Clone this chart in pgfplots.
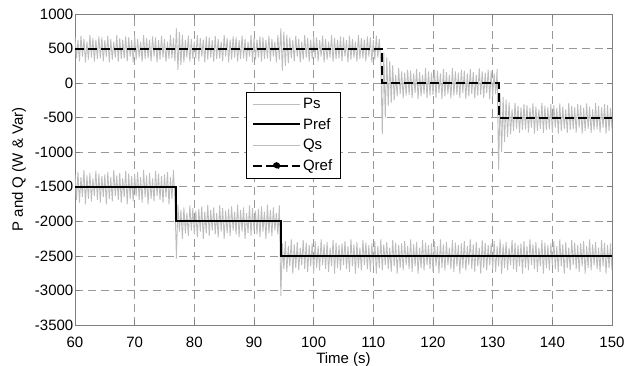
\documentclass[border=0pt]{standalone}
\usepackage{fontspec}
\setmainfont{Liberation Sans}
\usepackage{pgfplots}
\pgfplotsset{compat=1.18}
\definecolor{gridgray}{gray}{0.6}
\definecolor{axgray}{gray}{0.5}
\definecolor{noisegray}{gray}{0.74}
\begin{document}
\begin{tikzpicture}
\begin{axis}[
  name=ax,
  scale only axis,
  width=537pt, height=311pt,
  xmin=60, xmax=150, ymin=-3500, ymax=1000,
  xtick={60,70,...,150},
  ytick={-3500,-3000,...,1000},
  enlargelimits=false,
  axis line style={axgray, line width=0.6pt},
  tick style={axgray, line width=0.6pt},
  tick align=inside,
  major tick length=5pt,
  grid=major,
  major grid style={gridgray, line width=0.7pt, dash pattern=on 8pt off 5pt},
  /pgf/number format/assume math mode=true,
  /pgf/number format/1000 sep={},
  ticklabel style={font=\fontsize{15}{17}\selectfont},
  yticklabel style={inner xsep=1.5pt},
  xticklabel style={yshift=-8pt},
  label style={font=\fontsize{15}{17}\selectfont},
  xlabel={Time (s)},
  ylabel={P and Q (W \& Var)},
  xlabel style={yshift=1pt},
  ylabel style={yshift=4pt},
  legend style={at={(rel axis cs:0.318,0.750)}, anchor=north west,
    draw=black, line width=0.5pt, fill=white,
    font=\fontsize{15}{17}\selectfont,
    row sep=4.5pt, inner xsep=6pt, inner ysep=4pt},
  legend cell align=left,
  legend image code/.code={\draw[#1] (0pt,0pt) -- (47pt,0pt);},
]
% Ps
\addplot[noisegray, line width=0.9pt, legend image post style={line width=0.5pt}] coordinates {
(60,-1320)(60.25,-1690)(60.5,-1285)(60.75,-1730)(61,-1360)(61.25,-1650)(61.5,-1260)(61.75,-1755)
(62,-1335)(62.25,-1675)(62.5,-1300)(62.75,-1710)(63,-1380)(63.25,-1635)(63.5,-1270)(63.75,-1690)
(64,-1310)(64.25,-1730)(64.5,-1345)(64.75,-1650)(65,-1320)(65.25,-1755)(65.5,-1285)(65.75,-1675)
(66,-1360)(66.25,-1710)(66.5,-1260)(66.75,-1635)(67,-1335)(67.25,-1690)(67.5,-1300)(67.75,-1730)
(68,-1380)(68.25,-1650)(68.5,-1270)(68.75,-1755)(69,-1310)(69.25,-1675)(69.5,-1345)(69.75,-1710)
(70,-1320)(70.25,-1635)(70.5,-1285)(70.75,-1690)(71,-1360)(71.25,-1730)(71.5,-1260)(71.75,-1650)
(72,-1335)(72.25,-1755)(72.5,-1300)(72.75,-1675)(73,-1380)(73.25,-1710)(73.5,-1270)(73.75,-1635)
(74,-1310)(74.25,-1690)(74.5,-1345)(74.75,-1730)(75,-1320)(75.25,-1650)(75.5,-1285)(75.75,-1755)
(76,-1360)(76.25,-1675)(76.5,-1260)(76.75,-1710)
(77,-2540)
(77.25,-1760)(77.5,-2150)(77.75,-1835)(78,-2255)(78.25,-1800)(78.5,-2175)(78.75,-1880)(79,-2210)
(79.25,-1770)(79.5,-2135)(79.75,-1810)(80,-2190)(80.25,-1845)(80.5,-2230)(80.75,-1820)(81,-2150)
(81.25,-1785)(81.5,-2255)(81.75,-1860)(82,-2175)(82.25,-1760)(82.5,-2210)(82.75,-1835)(83,-2135)
(83.25,-1800)(83.5,-2190)(83.75,-1880)(84,-2230)(84.25,-1770)(84.5,-2150)(84.75,-1810)(85,-2255)
(85.25,-1845)(85.5,-2175)(85.75,-1820)(86,-2210)(86.25,-1785)(86.5,-2135)(86.75,-1860)(87,-2190)
(87.25,-1760)(87.5,-2230)(87.75,-1835)(88,-2150)(88.25,-1800)(88.5,-2255)(88.75,-1880)(89,-2175)
(89.25,-1770)(89.5,-2210)(89.75,-1810)(90,-2135)(90.25,-1845)(90.5,-2190)(90.75,-1820)(91,-2230)
(91.25,-1785)(91.5,-2150)(91.75,-1860)(92,-2255)(92.25,-1760)(92.5,-2175)(92.75,-1835)(93,-2210)
(93.25,-1800)(93.5,-2135)(93.75,-1880)(94,-2190)(94.25,-1770)
(94.5,-3080)
(94.75,-2320)(95,-2690)(95.25,-2285)(95.5,-2730)(95.75,-2360)(96,-2650)(96.25,-2260)(96.5,-2755)
(96.75,-2335)(97,-2675)(97.25,-2300)(97.5,-2710)(97.75,-2380)(98,-2635)(98.25,-2270)(98.5,-2690)
(98.75,-2310)(99,-2730)(99.25,-2345)(99.5,-2650)(99.75,-2320)(100,-2755)(100.25,-2285)(100.5,-2675)
(100.75,-2360)(101,-2710)(101.25,-2260)(101.5,-2635)(101.75,-2335)(102,-2690)(102.25,-2300)(102.5,-2730)
(102.75,-2380)(103,-2650)(103.25,-2270)(103.5,-2755)(103.75,-2310)(104,-2675)(104.25,-2345)(104.5,-2710)
(104.75,-2320)(105,-2635)(105.25,-2285)(105.5,-2690)(105.75,-2360)(106,-2730)(106.25,-2260)(106.5,-2650)
(106.75,-2335)(107,-2755)(107.25,-2300)(107.5,-2675)(107.75,-2380)(108,-2710)(108.25,-2270)(108.5,-2635)
(108.75,-2310)(109,-2690)(109.25,-2345)(109.5,-2730)(109.75,-2320)(110,-2650)(110.25,-2285)(110.5,-2755)
(110.75,-2360)(111,-2675)(111.25,-2260)(111.5,-2710)(111.75,-2335)(112,-2635)(112.25,-2300)(112.5,-2690)
(112.75,-2380)(113,-2730)(113.25,-2270)(113.5,-2650)(113.75,-2310)(114,-2755)(114.25,-2345)(114.5,-2675)
(114.75,-2320)(115,-2710)(115.25,-2285)(115.5,-2635)(115.75,-2360)(116,-2690)(116.25,-2260)(116.5,-2730)
(116.75,-2335)(117,-2650)(117.25,-2300)(117.5,-2755)(117.75,-2380)(118,-2675)(118.25,-2270)(118.5,-2710)
(118.75,-2310)(119,-2635)(119.25,-2345)(119.5,-2690)(119.75,-2320)(120,-2730)(120.25,-2285)(120.5,-2650)
(120.75,-2360)(121,-2755)(121.25,-2260)(121.5,-2675)(121.75,-2335)(122,-2710)(122.25,-2300)(122.5,-2635)
(122.75,-2380)(123,-2690)(123.25,-2270)(123.5,-2730)(123.75,-2310)(124,-2650)(124.25,-2345)(124.5,-2755)
(124.75,-2320)(125,-2675)(125.25,-2285)(125.5,-2710)(125.75,-2360)(126,-2635)(126.25,-2260)(126.5,-2690)
(126.75,-2335)(127,-2730)(127.25,-2300)(127.5,-2650)(127.75,-2380)(128,-2755)(128.25,-2270)(128.5,-2675)
(128.75,-2310)(129,-2710)(129.25,-2345)(129.5,-2635)(129.75,-2320)(130,-2690)(130.25,-2285)(130.5,-2730)
(130.75,-2360)(131,-2650)(131.25,-2260)(131.5,-2755)(131.75,-2335)(132,-2675)(132.25,-2300)(132.5,-2710)
(132.75,-2380)(133,-2635)(133.25,-2270)(133.5,-2690)(133.75,-2310)(134,-2730)(134.25,-2345)(134.5,-2650)
(134.75,-2320)(135,-2755)(135.25,-2285)(135.5,-2675)(135.75,-2360)(136,-2710)(136.25,-2260)(136.5,-2635)
(136.75,-2335)(137,-2690)(137.25,-2300)(137.5,-2730)(137.75,-2380)(138,-2650)(138.25,-2270)(138.5,-2755)
(138.75,-2310)(139,-2675)(139.25,-2345)(139.5,-2710)(139.75,-2320)(140,-2635)(140.25,-2285)(140.5,-2690)
(140.75,-2360)(141,-2730)(141.25,-2260)(141.5,-2650)(141.75,-2335)(142,-2755)(142.25,-2300)(142.5,-2675)
(142.75,-2380)(143,-2710)(143.25,-2270)(143.5,-2635)(143.75,-2310)(144,-2690)(144.25,-2345)(144.5,-2730)
(144.75,-2320)(145,-2650)(145.25,-2285)(145.5,-2755)(145.75,-2360)(146,-2675)(146.25,-2260)(146.5,-2710)
(146.75,-2335)(147,-2635)(147.25,-2300)(147.5,-2690)(147.75,-2380)(148,-2730)(148.25,-2270)(148.5,-2650)
(148.75,-2310)(149,-2755)(149.25,-2345)(149.5,-2675)(149.75,-2320)(150,-2710)
};
\addlegendentry{Ps}
% Pref
\addplot[black, line width=2pt] coordinates {
(60,-1500)(77,-1500)(77,-2000)(94.5,-2000)(94.5,-2500)(150,-2500)};
\addlegendentry{Pref}
% Qs
\addplot[noisegray, line width=0.9pt, legend image post style={line width=0.5pt}] coordinates {
(60,660)(60.25,360)(60.5,620)(60.75,315)(61,685)(61.25,385)(61.5,640)(61.75,300)
(62,600)(62.25,340)(62.5,695)(62.75,370)(63,650)(63.25,310)(63.5,630)(63.75,350)
(64,675)(64.25,360)(64.5,660)(64.75,315)(65,620)(65.25,385)(65.5,685)(65.75,300)
(66,640)(66.25,340)(66.5,600)(66.75,370)(67,695)(67.25,310)(67.5,650)(67.75,350)
(68,630)(68.25,360)(68.5,675)(68.75,315)(69,660)(69.25,385)(69.5,620)(69.75,300)
(70,685)(70.25,340)(70.5,640)(70.75,370)(71,600)(71.25,310)(71.5,695)(71.75,350)
(72,650)(72.25,360)(72.5,630)(72.75,315)(73,675)(73.25,385)(73.5,660)(73.75,300)
(74,620)(74.25,340)(74.5,685)(74.75,370)(75,640)(75.25,310)(75.5,600)(75.75,350)
(76,695)(76.25,360)(76.5,650)(76.75,315)
(77,790)(77.25,190)(77.5,740)(77.75,260)(78,700)(78.25,300)(78.5,620)(78.75,370)
(79,685)(79.25,310)(79.5,640)(79.75,350)(80,600)(80.25,360)(80.5,695)(80.75,315)
(81,650)(81.25,385)(81.5,630)(81.75,300)(82,675)(82.25,340)(82.5,660)(82.75,370)
(83,620)(83.25,310)(83.5,685)(83.75,350)(84,640)(84.25,360)(84.5,600)(84.75,315)
(85,695)(85.25,385)(85.5,650)(85.75,300)(86,630)(86.25,340)(86.5,675)(86.75,370)
(87,660)(87.25,310)(87.5,620)(87.75,350)(88,685)(88.25,360)(88.5,640)(88.75,315)
(89,600)(89.25,385)(89.5,695)(89.75,300)(90,650)(90.25,340)(90.5,630)(90.75,370)
(91,675)(91.25,310)(91.5,660)(91.75,350)(92,620)(92.25,360)(92.5,685)(92.75,315)
(93,640)(93.25,385)(93.5,600)(93.75,300)(94,695)(94.25,340)
(94.5,790)(94.75,180)(95,745)(95.25,250)(95.5,700)(95.75,290)
(96,660)(96.25,360)(96.5,620)(96.75,315)(97,685)(97.25,385)(97.5,640)(97.75,300)
(98,600)(98.25,340)(98.5,695)(98.75,370)(99,650)(99.25,310)(99.5,630)(99.75,350)
(100,675)(100.25,360)(100.5,660)(100.75,315)(101,620)(101.25,385)(101.5,685)(101.75,300)
(102,640)(102.25,340)(102.5,600)(102.75,370)(103,695)(103.25,310)(103.5,650)(103.75,350)
(104,630)(104.25,360)(104.5,675)(104.75,315)(105,660)(105.25,385)(105.5,620)(105.75,300)
(106,685)(106.25,340)(106.5,640)(106.75,370)(107,600)(107.25,310)(107.5,695)(107.75,350)
(108,650)(108.25,360)(108.5,630)(108.75,315)(109,675)(109.25,385)(109.5,660)(109.75,300)
(110,620)(110.25,340)(110.5,685)(110.75,370)(111,640)(111.25,310)
(111.5,-740)
(111.75,440)(112,-500)(112.25,380)(112.5,-330)(112.75,320)(113,-290)(113.25,260)(113.5,-250)
(113.75,120)(114,-190)(114.25,215)(114.5,-160)(114.75,170)(115,-220)(115.25,150)(115.5,-180)
(115.75,195)(116,-170)(116.25,180)(116.5,-215)(116.75,140)(117,-145)(117.25,205)(117.5,-230)
(117.75,160)(118,-190)(118.25,120)(118.5,-160)(118.75,215)(119,-220)(119.25,170)(119.5,-180)
(119.75,150)(120,-170)(120.25,195)(120.5,-215)(120.75,180)(121,-145)(121.25,140)(121.5,-230)
(121.75,205)(122,-190)(122.25,160)(122.5,-160)(122.75,120)(123,-220)(123.25,215)(123.5,-180)
(123.75,170)(124,-170)(124.25,150)(124.5,-215)(124.75,195)(125,-145)(125.25,180)(125.5,-230)
(125.75,140)(126,-190)(126.25,205)(126.5,-160)(126.75,160)(127,-220)(127.25,120)(127.5,-180)
(127.75,215)(128,-170)(128.25,170)(128.5,-215)(128.75,150)(129,-145)(129.25,195)(129.5,-230)
(129.75,180)(130,-190)(130.25,140)(130.5,-160)(130.75,205)
(131,-1250)
(131.25,-150)(131.5,-1000)(131.75,-200)(132,-850)(132.25,-240)(132.5,-780)(132.75,-280)(133,-740)
(133.25,-380)(133.5,-690)(133.75,-285)(134,-660)(134.25,-330)(134.5,-720)(134.75,-350)(135,-680)
(135.25,-305)(135.5,-670)(135.75,-320)(136,-715)(136.25,-360)(136.5,-645)(136.75,-295)(137,-730)
(137.25,-340)(137.5,-690)(137.75,-380)(138,-660)(138.25,-285)(138.5,-720)(138.75,-330)(139,-680)
(139.25,-350)(139.5,-670)(139.75,-305)(140,-715)(140.25,-320)(140.5,-645)(140.75,-360)(141,-730)
(141.25,-295)(141.5,-690)(141.75,-340)(142,-660)(142.25,-380)(142.5,-720)(142.75,-285)(143,-680)
(143.25,-330)(143.5,-670)(143.75,-350)(144,-715)(144.25,-305)(144.5,-645)(144.75,-320)(145,-730)
(145.25,-360)(145.5,-690)(145.75,-295)(146,-660)(146.25,-340)(146.5,-720)(146.75,-380)(147,-680)
(147.25,-285)(147.5,-670)(147.75,-330)(148,-715)(148.25,-350)(148.5,-645)(148.75,-305)(149,-730)
(149.25,-320)(149.5,-690)(149.75,-360)(150,-660)
};
\addlegendentry{Qs}
% Qref
\addplot[black, line width=2pt, dash pattern=on 9pt off 4pt,
  legend image code/.code={\draw[black, line width=2pt, dash pattern=on 9pt off 4pt] (0pt,0pt) -- (47pt,0pt);
    \fill[black] (23.5pt,0pt) circle (2.6pt);}] coordinates {
(60,500)(111.5,500)(111.5,0)(131,0)(131,-500)(150,-500)};
\addlegendentry{Qref}
\end{axis}
\pgfresetboundingbox
\path ([xshift=-75pt,yshift=-41pt]ax.south west) rectangle ([xshift=15pt,yshift=14pt]ax.north east);
\end{tikzpicture}
\end{document}
